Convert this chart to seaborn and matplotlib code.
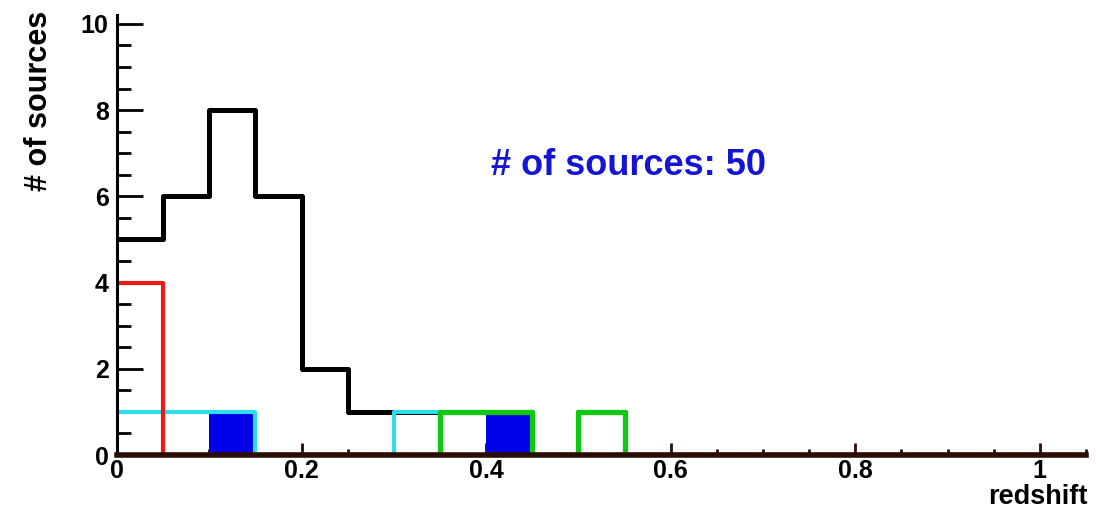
import numpy as np
import matplotlib
matplotlib.use("Agg")
import matplotlib.pyplot as plt
import seaborn as sns
from matplotlib.ticker import MultipleLocator

# ---- data (bin width 0.05, starting at redshift 0) ----
bin_width = 0.05
n_bins = 21
total_counts = [5, 6, 8, 6, 2, 1, 1, 1, 1, 0, 1]   # black
red_counts = [4]                                    # red
cyan_counts = [1, 1, 1, 0, 0, 0, 1]                 # cyan
green_counts = [0, 0, 0, 0, 0, 0, 0, 1, 1, 0, 1]    # green
blue_counts = [0, 0, 1, 0, 0, 0, 0, 0, 1]           # blue filled
annotation = "# of sources: 50"
x_label = "redshift"
y_label = "# of sources"

sns.set_theme(style="white")
plt.rcParams['font.family'] = ['Liberation Sans', 'DejaVu Sans']
plt.rcParams['font.weight'] = 'bold'
plt.rcParams['text.color'] = 'black'

centers = (np.arange(n_bins) + 0.5) * bin_width
hist_range = (0, n_bins * bin_width)


def pad(c):
    return np.array(list(c) + [0] * (n_bins - len(c)), dtype=float)


fig = plt.figure(figsize=(10.96, 5.12), dpi=100)
ax = fig.add_axes([0.1068, 0.1113, 0.884, 0.859])

common = dict(x=centers, bins=n_bins, binrange=hist_range, ax=ax)
sns.histplot(weights=pad(blue_counts), element="bars", fill=True,
             color="#0000e8", alpha=1, linewidth=0, zorder=1, **common)
sns.histplot(weights=pad(total_counts), element="step", fill=False,
             color="black", linewidth=3.6, zorder=2, **common)
sns.histplot(weights=pad(cyan_counts), element="step", fill=False,
             color="#2fdcec", linewidth=3.0, zorder=2.1, **common)
sns.histplot(weights=pad(green_counts), element="step", fill=False,
             color="#10c810", linewidth=3.8, zorder=2.2, **common)
sns.histplot(weights=pad(red_counts), element="step", fill=False,
             color="#ec1a12", linewidth=3.0, zorder=2.3, **common)

ax.set_xlim(0, 1.05)
ax.set_ylim(0, 10.2)

for s in ("top", "right"):
    ax.spines[s].set_visible(False)
ax.spines["left"].set_color("black")
ax.spines["left"].set_linewidth(2.2)
ax.spines["bottom"].set_color("#2a0c04")
ax.spines["bottom"].set_linewidth(4)
ax.spines["bottom"].set_zorder(5)
ax.spines["left"].set_zorder(5)

ax.xaxis.set_major_locator(MultipleLocator(0.2))
ax.xaxis.set_minor_locator(MultipleLocator(0.05))
ax.yaxis.set_major_locator(MultipleLocator(2))
ax.yaxis.set_minor_locator(MultipleLocator(0.5))
ax.xaxis.set_major_formatter(plt.FuncFormatter(lambda v, p: f"{v:g}"))

ax.tick_params(axis="y", which="major", direction="in", length=19, width=2,
               color="black", labelcolor="black", labelsize=18, pad=6,
               left=True)
ax.tick_params(axis="y", which="minor", direction="in", length=10, width=2,
               color="black", left=True)
ax.tick_params(axis="x", which="major", direction="in", length=9, width=2,
               color="#2a0c04", labelcolor="black", labelsize=18, pad=3,
               bottom=True)
ax.tick_params(axis="x", which="minor", direction="in", length=4, width=2,
               color="#2a0c04", bottom=True)
for lab in ax.get_xticklabels() + ax.get_yticklabels():
    lab.set_fontweight("bold")

ax.set_xlabel("")
ax.set_ylabel("")
fig.text(0.992, 0.004, x_label, ha="right", va="bottom", fontsize=19.5,
         fontweight="bold")
fig.text(0.036, 0.803, y_label, ha="center", va="center", rotation=90,
         fontsize=22, fontweight="bold")

ax.text(0.554, 6.71, annotation, ha="center", va="center", fontsize=26,
        fontweight="bold", color="#1414d2")

fig.savefig("out.png", dpi=100)
